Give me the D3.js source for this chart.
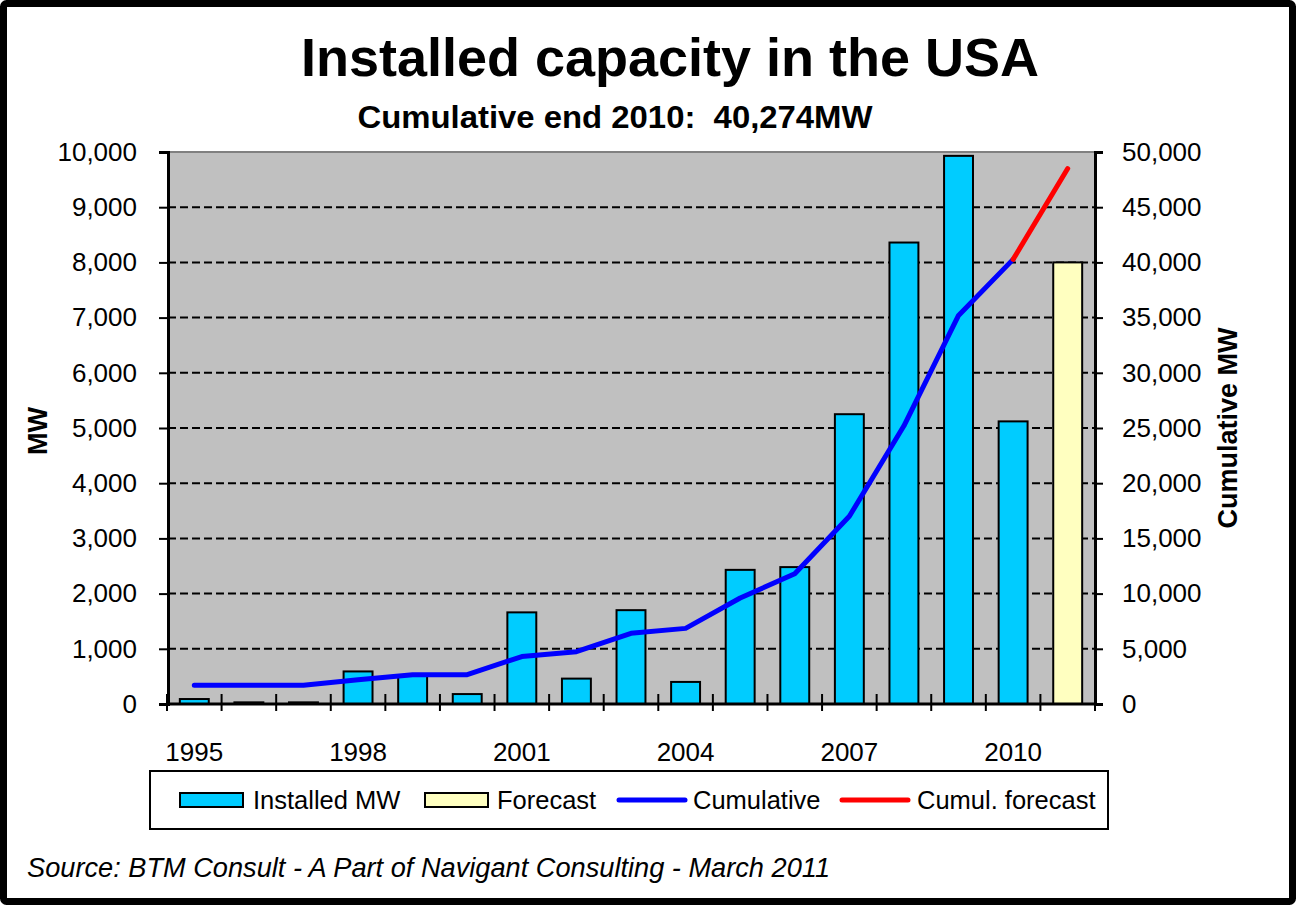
<!DOCTYPE html>
<html>
<head>
<meta charset="utf-8">
<script src="https://cdn.jsdelivr.net/npm/d3@7"></script>
<style>
  html, body { margin: 0; padding: 0; background: #fff; }
  svg { display: block; font-family: "Liberation Sans", Arial, sans-serif; }
</style>
</head>
<body>
<svg id="chart" width="1297" height="906"></svg>
<script>
// Annual and cumulative wind capacity installed in the USA (MW)
const years = ["1995","1996","1997","1998","1999","2000","2001","2002","2003",
               "2004","2005","2006","2007","2008","2009","2010","2011"];
const installedMW = [90, 30, 30, 590, 520, 180, 1660, 460, 1700,
                     400, 2430, 2480, 5250, 8360, 9930, 5120, null];
const forecastMW = [null, null, null, null, null, null, null, null, null,
                    null, null, null, null, null, null, null, 8000];
const cumulativeMW = [1700, 1700, 1700, 2200, 2650, 2650, 4300, 4740, 6400,
                      6850, 9600, 11800, 17000, 25200, 35200, 40274, null];
const cumulForecastMW = [null, null, null, null, null, null, null, null, null,
                         null, null, null, null, null, null, 40274, 48500];
const leftTicks = [0, 1000, 2000, 3000, 4000, 5000, 6000, 7000, 8000, 9000, 10000];
const rightTicks = [0, 5000, 10000, 15000, 20000, 25000, 30000, 35000, 40000, 45000, 50000];
const yearLabels = ["1995", "1998", "2001", "2004", "2007", "2010"];

const svg = d3.select("#chart");
const fmt = d3.format(",");

const plot = { left: 168, right: 1095, top: 152, bottom: 704 };

// Outer frame
svg.append("rect")
  .attr("x", 3.5).attr("y", 3.5).attr("width", 1289).attr("height", 898)
  .attr("rx", 3)
  .attr("fill", "#fff").attr("stroke", "#000").attr("stroke-width", 7);

// Scales
const x = d3.scaleBand().domain(years)
  .range([plot.left - 1, plot.right])
  .paddingInner(0.47).paddingOuter(0.235);
const step = x.step();
const xc = d => x(d) + x.bandwidth() / 2;
const yL = d3.scaleLinear().domain([0, 10000]).range([plot.bottom, plot.top]);
const yR = d3.scaleLinear().domain([0, 50000]).range([plot.bottom, plot.top]);

// Plot background
svg.append("rect")
  .attr("x", plot.left).attr("y", plot.top)
  .attr("width", plot.right - plot.left).attr("height", plot.bottom - plot.top)
  .attr("fill", "#C0C0C0").attr("stroke", "#808080").attr("stroke-width", 2);

// Dashed gridlines
svg.append("g").selectAll("line")
  .data(leftTicks.filter(t => t > 0))
  .join("line")
  .attr("x1", plot.left).attr("x2", plot.right)
  .attr("y1", d => yL(d)).attr("y2", d => yL(d))
  .attr("stroke", d => d === 10000 ? "#808080" : "#000")
  .attr("stroke-width", 2)
  .attr("stroke-dasharray", "8,4");

// Left axis
const axL = svg.append("g")
  .attr("transform", `translate(${plot.left},0)`)
  .call(d3.axisLeft(yL).tickValues(leftTicks).tickFormat(fmt).tickSize(9).tickPadding(22));
axL.select(".domain").attr("stroke", "#000").attr("stroke-width", 3);
axL.selectAll(".tick line").attr("stroke", "#000").attr("stroke-width", 2);
axL.selectAll(".tick text").attr("font-size", 26).attr("fill", "#000")
  .attr("font-family", "Liberation Sans, Arial, sans-serif");

// Right axis
const axR = svg.append("g")
  .attr("transform", `translate(${plot.right},0)`)
  .call(d3.axisRight(yR).tickValues(rightTicks).tickFormat(fmt).tickSize(8).tickPadding(19));
axR.select(".domain").attr("stroke", "#000").attr("stroke-width", 3);
axR.selectAll(".tick line").attr("stroke", "#000").attr("stroke-width", 2);
axR.selectAll(".tick text").attr("font-size", 26).attr("fill", "#000")
  .attr("font-family", "Liberation Sans, Arial, sans-serif");

// Installed bars
svg.append("g").selectAll("rect")
  .data(years.map((y, i) => ({ y, v: installedMW[i] })).filter(d => d.v != null))
  .join("rect")
  .attr("x", d => x(d.y)).attr("width", x.bandwidth())
  .attr("y", d => yL(d.v)).attr("height", d => yL(0) - yL(d.v))
  .attr("fill", "#00CCFF").attr("stroke", "#000").attr("stroke-width", 2);

// Forecast bars
svg.append("g").selectAll("rect")
  .data(years.map((y, i) => ({ y, v: forecastMW[i] })).filter(d => d.v != null))
  .join("rect")
  .attr("x", d => x(d.y)).attr("width", x.bandwidth())
  .attr("y", d => yL(d.v)).attr("height", d => yL(0) - yL(d.v))
  .attr("fill", "#FFFFC0").attr("stroke", "#000").attr("stroke-width", 2);

// Category axis: baseline and crossing ticks at slot boundaries
svg.append("line")
  .attr("x1", plot.left - 1).attr("x2", plot.right)
  .attr("y1", plot.bottom).attr("y2", plot.bottom)
  .attr("stroke", "#000").attr("stroke-width", 3);
svg.append("g").selectAll("line")
  .data(d3.range(years.length + 1))
  .join("line")
  .attr("x1", i => x.range()[0] + i * step).attr("x2", i => x.range()[0] + i * step)
  .attr("y1", plot.bottom - 10).attr("y2", plot.bottom + 7)
  .attr("stroke", "#000").attr("stroke-width", 2);
svg.append("g").selectAll("text")
  .data(yearLabels)
  .join("text")
  .attr("x", d => xc(d)).attr("y", 761)
  .attr("text-anchor", "middle").attr("font-size", 26)
  .text(d => d);

// Cumulative lines
const line = d3.line()
  .defined(d => d.v != null)
  .x(d => xc(d.y)).y(d => yR(d.v));
svg.append("path")
  .datum(years.map((y, i) => ({ y, v: cumulativeMW[i] })))
  .attr("d", line)
  .attr("fill", "none").attr("stroke", "#0000FF").attr("stroke-width", 5)
  .attr("stroke-linejoin", "round").attr("stroke-linecap", "round");
svg.append("path")
  .datum(years.map((y, i) => ({ y, v: cumulForecastMW[i] })))
  .attr("d", line)
  .attr("fill", "none").attr("stroke", "#FF0000").attr("stroke-width", 5)
  .attr("stroke-linejoin", "round").attr("stroke-linecap", "round");

// Titles
svg.append("text").attr("x", 670).attr("y", 76)
  .attr("text-anchor", "middle").attr("font-size", 54).attr("font-weight", "bold")
  .text("Installed capacity in the USA");
svg.append("text").attr("x", 615).attr("y", 128)
  .attr("text-anchor", "middle").attr("font-size", 32).attr("font-weight", "bold")
  .attr("xml:space", "preserve")
  .attr("textLength", 515).attr("lengthAdjust", "spacingAndGlyphs")
  .text("Cumulative end 2010:  40,274MW");

// Axis titles
svg.append("text")
  .attr("transform", "translate(47,431) rotate(-90)")
  .attr("text-anchor", "middle").attr("font-size", 27).attr("font-weight", "bold")
  .text("MW");
svg.append("text")
  .attr("transform", "translate(1237,428) rotate(-90)")
  .attr("text-anchor", "middle").attr("font-size", 27).attr("font-weight", "bold")
  .text("Cumulative MW");

// Legend
const lg = svg.append("g");
lg.append("rect").attr("x", 150).attr("y", 771).attr("width", 958).attr("height", 58)
  .attr("fill", "#fff").attr("stroke", "#000").attr("stroke-width", 2);
const legendItems = [
  { label: "Installed MW", type: "rect", color: "#00CCFF", sx: 180, tx: 253 },
  { label: "Forecast", type: "rect", color: "#FFFFC0", sx: 425, tx: 497 },
  { label: "Cumulative", type: "line", color: "#0000FF", sx: 619, tx: 693 },
  { label: "Cumul. forecast", type: "line", color: "#FF0000", sx: 842, tx: 917 }
];
legendItems.forEach(it => {
  if (it.type === "rect") {
    lg.append("rect").attr("x", it.sx).attr("y", 793).attr("width", 63).attr("height", 14)
      .attr("fill", it.color).attr("stroke", "#000").attr("stroke-width", 2);
  } else {
    lg.append("line").attr("x1", it.sx).attr("x2", it.sx + 66)
      .attr("y1", 800).attr("y2", 800)
      .attr("stroke", it.color).attr("stroke-width", 5).attr("stroke-linecap", "round");
  }
  lg.append("text").attr("x", it.tx).attr("y", 809).attr("font-size", 25.5).text(it.label);
});

// Source note
svg.append("text").attr("x", 27).attr("y", 877)
  .attr("font-size", 27).attr("font-style", "italic")
  .attr("textLength", 803).attr("lengthAdjust", "spacingAndGlyphs")
  .text("Source: BTM Consult - A Part of Navigant Consulting - March 2011");
</script>
</body>
</html>
